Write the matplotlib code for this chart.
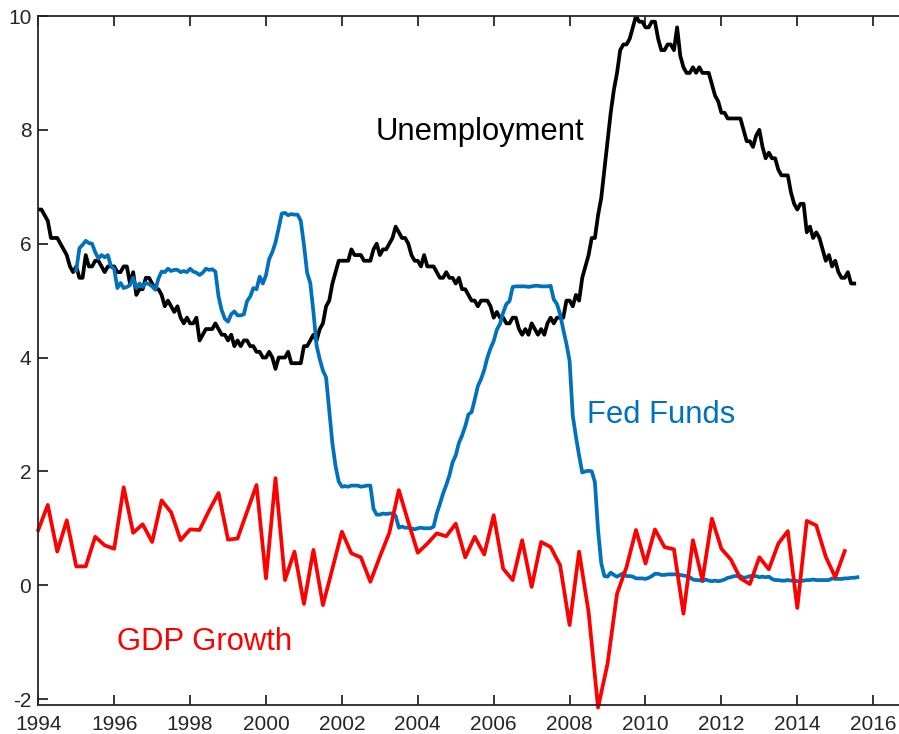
import numpy as np
import matplotlib.pyplot as plt

plt.rcParams['font.family'] = ['Liberation Sans', 'DejaVu Sans']
plt.rcParams['axes.unicode_minus'] = False

# monthly unemployment rate, Jan 1994 - Jul 2015
unemployment = [
    6.6, 6.6, 6.5, 6.4, 6.1, 6.1, 6.1, 6.0, 5.9, 5.8, 5.6, 5.5,
    5.6, 5.4, 5.4, 5.8, 5.6, 5.6, 5.7, 5.7, 5.6, 5.5, 5.6, 5.6,
    5.6, 5.5, 5.5, 5.6, 5.6, 5.3, 5.5, 5.1, 5.2, 5.2, 5.4, 5.4,
    5.3, 5.2, 5.2, 5.1, 4.9, 5.0, 4.9, 4.8, 4.9, 4.7, 4.6, 4.7,
    4.6, 4.6, 4.7, 4.3, 4.4, 4.5, 4.5, 4.5, 4.6, 4.5, 4.4, 4.4,
    4.3, 4.4, 4.2, 4.3, 4.2, 4.3, 4.3, 4.2, 4.2, 4.1, 4.1, 4.0,
    4.0, 4.1, 4.0, 3.8, 4.0, 4.0, 4.0, 4.1, 3.9, 3.9, 3.9, 3.9,
    4.2, 4.2, 4.3, 4.4, 4.3, 4.5, 4.6, 4.9, 5.0, 5.3, 5.5, 5.7,
    5.7, 5.7, 5.7, 5.9, 5.8, 5.8, 5.8, 5.7, 5.7, 5.7, 5.9, 6.0,
    5.8, 5.9, 5.9, 6.0, 6.1, 6.3, 6.2, 6.1, 6.1, 6.0, 5.8, 5.7,
    5.7, 5.6, 5.8, 5.6, 5.6, 5.6, 5.5, 5.4, 5.4, 5.5, 5.4, 5.4,
    5.3, 5.4, 5.2, 5.2, 5.1, 5.0, 5.0, 4.9, 5.0, 5.0, 5.0, 4.9,
    4.7, 4.8, 4.7, 4.7, 4.6, 4.6, 4.7, 4.7, 4.5, 4.4, 4.5, 4.4,
    4.6, 4.5, 4.4, 4.5, 4.4, 4.6, 4.7, 4.6, 4.7, 4.7, 4.7, 5.0,
    5.0, 4.9, 5.1, 5.0, 5.4, 5.6, 5.8, 6.1, 6.1, 6.5, 6.8, 7.3,
    7.8, 8.3, 8.7, 9.0, 9.4, 9.5, 9.5, 9.6, 9.8, 10.0, 9.9, 9.9,
    9.8, 9.8, 9.9, 9.9, 9.6, 9.4, 9.4, 9.5, 9.5, 9.4, 9.8, 9.3,
    9.1, 9.0, 9.0, 9.1, 9.0, 9.1, 9.0, 9.0, 9.0, 8.8, 8.6, 8.5,
    8.3, 8.3, 8.2, 8.2, 8.2, 8.2, 8.2, 8.0, 7.8, 7.8, 7.7, 7.9,
    8.0, 7.7, 7.5, 7.6, 7.5, 7.5, 7.3, 7.2, 7.2, 7.2, 6.9, 6.7,
    6.6, 6.7, 6.7, 6.2, 6.3, 6.1, 6.2, 6.1, 5.9, 5.7, 5.8, 5.6,
    5.7, 5.5, 5.4, 5.4, 5.5, 5.3, 5.3,
]

# monthly fed funds rate, Jan 1995 - Aug 2015
fed_funds = [
    5.53, 5.92, 5.98, 6.05, 6.01, 6.00, 5.85, 5.74, 5.80, 5.76, 5.80, 5.60,
    5.56, 5.22, 5.31, 5.22, 5.24, 5.27, 5.40, 5.22, 5.30, 5.24, 5.31, 5.29,
    5.25, 5.19, 5.39, 5.51, 5.50, 5.56, 5.52, 5.54, 5.54, 5.50, 5.52, 5.50,
    5.56, 5.51, 5.49, 5.45, 5.49, 5.56, 5.54, 5.55, 5.51, 5.07, 4.83, 4.68,
    4.63, 4.76, 4.81, 4.74, 4.74, 4.76, 4.99, 5.07, 5.22, 5.20, 5.42, 5.30,
    5.45, 5.73, 5.85, 6.02, 6.27, 6.53, 6.54, 6.50, 6.52, 6.51, 6.51, 6.40,
    5.98, 5.49, 5.31, 4.80, 4.21, 3.97, 3.77, 3.65, 3.07, 2.49, 2.09, 1.82,
    1.73, 1.74, 1.73, 1.75, 1.75, 1.75, 1.73, 1.74, 1.75, 1.75, 1.34, 1.24,
    1.24, 1.26, 1.25, 1.26, 1.26, 1.22, 1.01, 1.03, 1.01, 1.01, 1.00, 0.98,
    1.00, 1.01, 1.00, 1.00, 1.00, 1.03, 1.26, 1.43, 1.61, 1.76, 1.93, 2.16,
    2.28, 2.50, 2.63, 2.79, 3.00, 3.04, 3.26, 3.50, 3.62, 3.78, 4.00, 4.16,
    4.29, 4.49, 4.59, 4.79, 4.94, 4.99, 5.24, 5.25, 5.25, 5.25, 5.25, 5.24,
    5.25, 5.26, 5.26, 5.25, 5.25, 5.25, 5.26, 5.02, 4.94, 4.76, 4.49, 4.24,
    3.94, 2.98, 2.61, 2.28, 1.98, 2.00, 2.01, 2.00, 1.81, 0.97, 0.39, 0.16,
    0.15, 0.22, 0.18, 0.15, 0.18, 0.21, 0.16, 0.16, 0.15, 0.12, 0.12, 0.12,
    0.11, 0.13, 0.16, 0.20, 0.20, 0.18, 0.18, 0.19, 0.19, 0.19, 0.19, 0.18,
    0.17, 0.16, 0.14, 0.10, 0.09, 0.09, 0.07, 0.10, 0.08, 0.07, 0.08, 0.07,
    0.08, 0.10, 0.13, 0.14, 0.16, 0.16, 0.16, 0.13, 0.14, 0.16, 0.16, 0.16,
    0.14, 0.15, 0.14, 0.15, 0.11, 0.09, 0.09, 0.08, 0.08, 0.09, 0.08, 0.09,
    0.07, 0.07, 0.08, 0.09, 0.09, 0.10, 0.09, 0.09, 0.09, 0.09, 0.09, 0.12,
    0.11, 0.11, 0.11, 0.12, 0.12, 0.13, 0.13, 0.14,
]

# quarterly real GDP growth (%), 1994Q1 - 2015Q2
gdp_growth = [
    0.97, 1.41, 0.59, 1.14, 0.33, 0.33, 0.85, 0.70,
    0.64, 1.72, 0.92, 1.07, 0.76, 1.49, 1.28, 0.79,
    0.98, 0.97, 1.31, 1.62, 0.80, 0.82, 1.29, 1.76,
    0.12, 1.88, 0.09, 0.59, -0.33, 0.62, -0.35, 0.29,
    0.94, 0.56, 0.49, 0.06, 0.50, 0.92, 1.67, 1.11,
    0.57, 0.73, 0.91, 0.86, 1.08, 0.49, 0.85, 0.54,
    1.23, 0.29, 0.09, 0.79, -0.03, 0.76, 0.67, 0.35,
    -0.70, 0.59, -0.47, -2.15, -1.38, -0.15, 0.32, 0.97,
    0.38, 0.98, 0.67, 0.63, -0.50, 0.79, 0.09, 1.17,
    0.64, 0.45, 0.12, 0.02, 0.49, 0.28, 0.73, 0.95,
    -0.40, 1.13, 1.05, 0.50, 0.14, 0.60,
]

unemp_t = 1994 + np.arange(len(unemployment)) / 12
fed_t = 1995 + np.arange(len(fed_funds)) / 12
gdp_t = 1994 + np.arange(len(gdp_growth)) / 4

fig = plt.figure(figsize=(8.99, 7.34), dpi=100)
ax = fig.add_axes([0.0426, 0.0395, 0.9574, 0.9387])

ax.plot(unemp_t, unemployment, color='black', lw=2.7)
ax.plot(fed_t, fed_funds, color='#0072BD', lw=2.7)
ax.plot(gdp_t, gdp_growth, color='#FF0000', lw=2.7, clip_on=False)

ax.text(2002.9, 7.82, 'Unemployment', color='black', fontsize=22.3, va='baseline')
ax.text(2008.46, 2.85, 'Fed Funds', color='#0072BD', fontsize=22.3, va='baseline')
ax.text(1996.07, -1.14, 'GDP Growth', color='#FF0000', fontsize=22.3, va='baseline')

ax.set_xlim(1994, 2016.68)
ax.set_ylim(-2.105, 10)
ax.set_xticks(np.arange(1994, 2017, 2))
ax.set_yticks(np.arange(-2, 11, 2))

edge = '#262626'
for side in ['left', 'bottom', 'top']:
    ax.spines[side].set_color(edge)
    ax.spines[side].set_linewidth(1.3)
ax.spines['right'].set_visible(False)
ax.tick_params(direction='in', length=7, width=1.3, color=edge, labelcolor=edge,
               labelsize=15, top=True, right=False)
ax.tick_params(axis='x', pad=7)
ax.tick_params(axis='y', pad=5)

fig.savefig('out.png', dpi=100)
